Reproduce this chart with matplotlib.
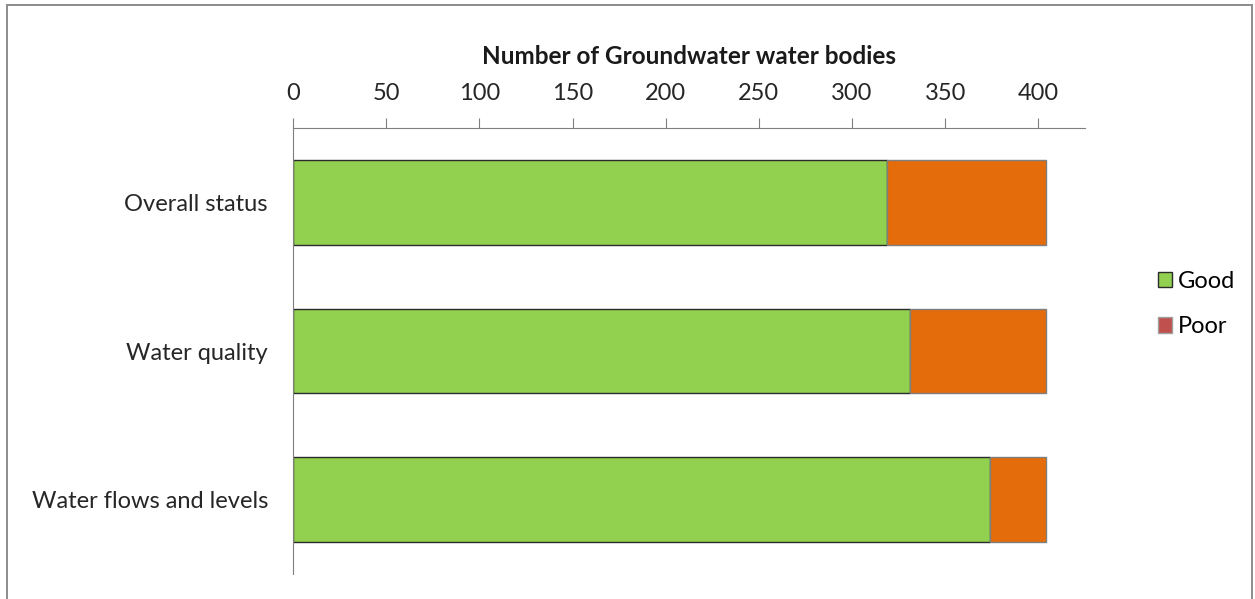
import matplotlib.pyplot as plt
from matplotlib.patches import Patch, Rectangle

categories = ["Overall status", "Water quality", "Water flows and levels"]
good = [319, 331, 374]
poor = [85, 73, 30]
x_ticks = [0, 50, 100, 150, 200, 250, 300, 350, 400]

plt.rcParams['font.family'] = ['Lato', 'DejaVu Sans']

W, H = 1255, 599
fig = plt.figure(figsize=(W / 100, H / 100), dpi=100)
ax = fig.add_axes([293 / W, 1 - 574 / H, (1085 - 293) / W, (574 - 128) / H])

y = list(range(len(categories)))
ax.barh(y, good, height=0.57, color='#92d050', edgecolor='#2b2b2b', linewidth=1.0)
ax.barh(y, poor, left=good, height=0.57, color='#e46c0a', edgecolor='#7f7f7f', linewidth=1.0)

ax.set_xlim(0, 425)
ax.set_ylim(2.5, -0.5)
ax.set_xticks(x_ticks)
ax.set_yticks(y)
ax.set_yticklabels(categories, fontsize=17, color='#262626')
ax.xaxis.tick_top()
ax.xaxis.set_label_position('top')
ax.tick_params(axis='x', direction='out', length=7, width=0.8, color='#7f7f7f',
               labelsize=17, labelcolor='#262626', pad=10)
ax.tick_params(axis='y', length=0, pad=18)
ax.set_xlabel("Number of Groundwater water bodies", fontsize=17.5, fontweight='bold',
              color='#1a1a1a', labelpad=14)
for s in ['right', 'bottom']:
    ax.spines[s].set_visible(False)
ax.spines['top'].set_color('#7f7f7f')
ax.spines['left'].set_color('#7f7f7f')

handles = [Patch(facecolor='#92d050', edgecolor='#2b2b2b', label='Good'),
           Patch(facecolor='#c0504d', edgecolor='#a0a0a0', label='Poor')]
fig.legend(handles=handles, loc='center left', bbox_to_anchor=(1146 / W, 1 - 304 / H),
           frameon=False, fontsize=17, handlelength=0.62, handleheight=0.62,
           handletextpad=0.25, labelspacing=1.05, borderpad=0)

# chart frame (runs off the bottom like the screenshot)
fig.patches.append(Rectangle((7 / W, -0.05), (1252 - 7) / W, 1.05 - 5 / H,
                             transform=fig.transFigure, fill=False,
                             edgecolor='#8c8c8c', linewidth=1.4))

fig.savefig("out.png", dpi=100)
